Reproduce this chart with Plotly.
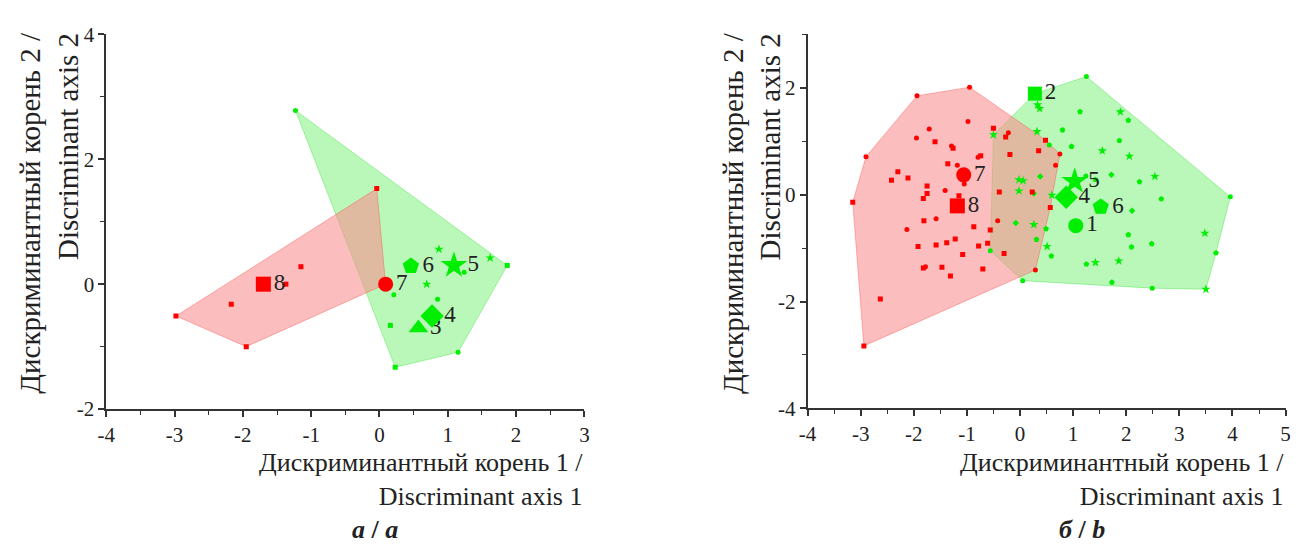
import plotly.graph_objects as go

# ---------------- Panel a (left) ----------------
a_red_x = [-0.04, -2.98, -1.95, -2.17, -1.37, -1.15]
a_red_y = [1.53, -0.51, -1.00, -0.32, 0.00, 0.28]

a_grn_circle_x = [-1.23, 1.15, 0.21, 0.85, 1.24]
a_grn_circle_y = [2.78, -1.09, -0.17, -0.24, 0.19]
a_grn_square_x = [1.87, 0.23, 0.16]
a_grn_square_y = [0.30, -1.33, -0.66]
a_grn_star_x = [0.69, 0.87, 1.62]
a_grn_star_y = [0.00, 0.56, 0.42]

a_big_labels = ["3", "4", "5", "6", "7", "8"]
a_big_x = [0.57, 0.77, 1.09, 0.46, 0.09, -1.70]
a_big_y = [-0.70, -0.51, 0.30, 0.29, 0.00, 0.00]
a_big_group = ["g", "g", "g", "g", "r", "r"]

# ---------------- Panel b (right) ----------------
b_red_circle_x = [-0.95, -1.94, -2.90, 0.29, 0.75, 0.67, -0.22, -0.42, -0.98, -1.71, -1.95,
                  -1.29, -0.79, -1.18, -1.41, -1.58, -2.13, -1.78, -1.05]
b_red_circle_y = [2.01, 1.85, 0.71, -1.41, 0.76, 0.55, 1.16, -0.49, 1.37, 1.23, 1.06,
                  0.91, 0.70, 0.55, 0.08, -0.45, -0.65, -1.35, 0.20]
b_red_square_x = [-3.15, -2.94, -2.63, 0.48, 0.35, 0.57, 0.23, -0.19, -0.50, -0.27, -0.39,
                  -0.56, -0.30, -1.60, -1.26, -0.74, -1.36, -2.30, -2.42, -2.11, -1.75,
                  -1.75, -1.82, -1.15, -1.81, -0.87, -1.92, -1.58, -1.38, -1.22, -0.78,
                  -0.61, -1.08, -1.82, -1.47, -1.31, -0.70]
b_red_square_y = [-0.14, -2.83, -1.95, 1.02, 0.82, -0.24, 0.05, 0.75, 1.24, 1.08, 0.05,
                  -0.66, -1.10, 0.99, 0.87, 0.73, 0.58, 0.43, 0.27, 0.31, 0.16,
                  0.02, -0.07, -0.02, -0.49, -0.60, -0.97, -0.94, -0.90, -0.83, -0.96,
                  -0.91, -1.12, -1.37, -1.36, -1.52, -1.39]

b_grn_circle_x = [1.25, 3.96, 2.49, 0.05, -0.56, 0.55, 1.24]
b_grn_circle_y = [2.21, -0.04, -1.75, -1.61, -1.05, 0.93, 0.35]
b_grn_pent_x = [1.13, 2.04, 0.80, 0.97, 1.87, 2.25, 1.42, 2.66, 0.49, 0.31, 0.59, 1.25,
                2.04, 2.10, 2.48, 3.69, 1.73]
b_grn_pent_y = [1.55, 1.39, 1.21, 0.90, 1.01, 0.24, 0.28, -0.08, -0.64, -0.84, -1.15, -1.30,
                -0.75, -0.98, -0.92, -1.09, -1.64]
b_grn_star_x = [1.89, 0.32, 1.55, 2.06, -0.50, 2.54, -0.02, 0.06, -0.02, 0.60, 0.26, 0.51,
                1.42, 1.86, 3.48, 3.50, 0.33, 0.37]
b_grn_star_y = [1.55, 1.18, 0.82, 0.72, 1.12, 0.34, 0.28, 0.26, 0.07, -0.01, -0.56, -0.97,
                -1.27, -1.24, -0.72, -1.77, 1.68, 1.61]
b_grn_diam_x = [1.72, 0.38, 0.26, 2.11, -0.08]
b_grn_diam_y = [0.37, 0.34, 0.02, -0.30, -0.53]

b_big_labels = ["1", "2", "4", "5", "6", "7", "8"]
b_big_x = [1.05, 0.28, 0.87, 1.03, 1.52, -1.06, -1.18]
b_big_y = [-0.58, 1.89, -0.05, 0.25, -0.23, 0.37, -0.21]
b_big_group = ["g", "g", "g", "g", "g", "r", "r"]

# tick labels
a_xticks = [-4, -3, -2, -1, 0, 1, 2, 3]
a_yticks = [-2, 0, 2, 4]
b_xticks = [-4, -3, -2, -1, 0, 1, 2, 3, 4, 5]
b_yticks = [-4, -2, 0, 2]

# ---------------- styles ----------------
RED = "#ff0000"
GRN = "#00ee00"
RED_FILL = "rgba(248,145,145,0.6)"
GRN_FILL = "rgba(0,230,0,0.27)"
BIG_SYMBOL = {"1": "circle", "2": "square", "3": "triangle-up", "4": "diamond",
              "5": "star", "6": "pentagon", "7": "circle", "8": "square"}
BIG_SIZE = {"1": 15, "2": 14, "3": 17, "4": 18, "5": 20, "6": 17, "7": 15, "8": 15}
SERIF = "Liberation Serif"


def convex_hull(xs, ys):
    pts = sorted(set(zip(xs, ys)))

    def cross(o, a, b):
        return (a[0] - o[0]) * (b[1] - o[1]) - (a[1] - o[1]) * (b[0] - o[0])

    lower, upper = [], []
    for p in pts:
        while len(lower) >= 2 and cross(lower[-2], lower[-1], p) <= 0:
            lower.pop()
        lower.append(p)
    for p in reversed(pts):
        while len(upper) >= 2 and cross(upper[-2], upper[-1], p) <= 0:
            upper.pop()
        upper.append(p)
    h = lower[:-1] + upper[:-1]
    h.append(h[0])
    return [p[0] for p in h], [p[1] for p in h]


fig = go.Figure()


def add_panel(xa, ya, red_sets, grn_sets, big_lab, big_x, big_y, big_grp, small):
    gx = [v for s in grn_sets for v in s[0]] + [x for x, g in zip(big_x, big_grp) if g == "g"]
    gy = [v for s in grn_sets for v in s[1]] + [y for y, g in zip(big_y, big_grp) if g == "g"]
    rx = [v for s in red_sets for v in s[0]] + [x for x, g in zip(big_x, big_grp) if g == "r"]
    ry = [v for s in red_sets for v in s[1]] + [y for y, g in zip(big_y, big_grp) if g == "r"]
    hx, hy = convex_hull(gx, gy)
    fig.add_trace(go.Scatter(x=hx, y=hy, xaxis=xa, yaxis=ya, mode="lines", fill="toself",
                             fillcolor=GRN_FILL, line=dict(color="rgba(0,220,0,0.3)", width=1),
                             hoverinfo="skip"))
    hx, hy = convex_hull(rx, ry)
    fig.add_trace(go.Scatter(x=hx, y=hy, xaxis=xa, yaxis=ya, mode="lines", fill="toself",
                             fillcolor=RED_FILL, line=dict(color="rgba(255,60,60,0.35)", width=1),
                             hoverinfo="skip"))
    for xs, ys, sym in grn_sets:
        fig.add_trace(go.Scatter(x=xs, y=ys, xaxis=xa, yaxis=ya, mode="markers",
                                 marker=dict(symbol=sym, color=GRN,
                                             size=small + (2 if sym == "star" else 0)
                                             + (1 if sym == "pentagon" else 0),
                                             line=dict(width=0))))
    for xs, ys, sym in red_sets:
        fig.add_trace(go.Scatter(x=xs, y=ys, xaxis=xa, yaxis=ya, mode="markers",
                                 marker=dict(symbol=sym, color=RED, size=small, line=dict(width=0))))
    for lab, x, y, g in zip(big_lab, big_x, big_y, big_grp):
        fig.add_trace(go.Scatter(x=[x], y=[y], xaxis=xa, yaxis=ya, mode="markers+text",
                                 text=[lab], textposition="middle right",
                                 textfont=dict(family=SERIF, size=23, color="#222"),
                                 cliponaxis=False,
                                 marker=dict(symbol=BIG_SYMBOL[lab], size=BIG_SIZE[lab],
                                             color=GRN if g == "g" else RED, line=dict(width=0))))


add_panel("x", "y",
          [(a_red_x, a_red_y, "square")],
          [(a_grn_circle_x, a_grn_circle_y, "circle"),
           (a_grn_square_x, a_grn_square_y, "square"),
           (a_grn_star_x, a_grn_star_y, "star")],
          a_big_labels, a_big_x, a_big_y, a_big_group, 5)

add_panel("x2", "y2",
          [(b_red_circle_x, b_red_circle_y, "circle"),
           (b_red_square_x, b_red_square_y, "square")],
          [(b_grn_circle_x, b_grn_circle_y, "circle"),
           (b_grn_pent_x, b_grn_pent_y, "pentagon"),
           (b_grn_star_x, b_grn_star_y, "star"),
           (b_grn_diam_x, b_grn_diam_y, "diamond")],
          b_big_labels, b_big_x, b_big_y, b_big_group, 5)

W, H = 1296, 557


def axis_common(ticks, rng, dom, anchor, minor_dt):
    return dict(domain=dom, range=rng, anchor=anchor, showline=True, linecolor="#333",
                linewidth=1.6, ticks="outside", ticklen=6, tickwidth=1.5, tickcolor="#333",
                tickmode="array", tickvals=ticks, ticktext=[str(t) for t in ticks],
                tickfont=dict(family=SERIF, size=21, color="#222"),
                minor=dict(ticks="outside", ticklen=4, tickwidth=1.3, tickcolor="#333",
                           tickmode="linear", tick0=0, dtick=minor_dt, showgrid=False),
                showgrid=False, zeroline=False, fixedrange=True)


fig.update_layout(
    width=W, height=H, margin=dict(l=0, r=0, t=0, b=0),
    paper_bgcolor="white", plot_bgcolor="white", showlegend=False,
    xaxis=axis_common(a_xticks, [-4, 3], [98.3 / W, 581.7 / W], "y", 0.5),
    yaxis=axis_common(a_yticks, [-2, 4], [(H - 415) / H, (H - 23.3) / H], "x", 1),
    xaxis2=axis_common(b_xticks, [-4, 5], [807.3 / W, 1290.5 / W], "y2", 0.5),
    yaxis2=axis_common(b_yticks, [-4, 3], [(H - 414.3) / H, (H - 23.3) / H], "x2", 1),
)

xt = "Дискриминантный корень 1 /<br>Discriminant axis 1"
yt = "Дискриминантный корень 2 /<br>Discriminant axis 2"
ann = []
for xr, xc in [(582 / W, 41 / W), (1291 / W, 751 / W)]:
    ann.append(dict(text=xt, xref="paper", yref="paper", x=xr, y=(H - 454) / H,
                    xanchor="right", yanchor="top", align="right", showarrow=False,
                    font=dict(family=SERIF, size=26, color="#222")))
    ann.append(dict(text=yt, xref="paper", yref="paper", x=xc, y=(H - 19) / H,
                    xanchor="center", yanchor="top", align="right", textangle=-90,
                    showarrow=False, font=dict(family=SERIF, size=29, color="#222")))
for cx, t in [(370, "<b><i>а</i> / <i>a</i></b>"), (1085, "<b><i>б</i> / <i>b</i></b>")]:
    ann.append(dict(text=t, xref="paper", yref="paper", x=cx / W, y=(H - 541) / H,
                    xanchor="center", yanchor="middle", showarrow=False,
                    font=dict(family=SERIF, size=26, color="#222")))
fig.update_layout(annotations=ann)

fig.write_html("out.html", config={"displayModeBar": False},
               post_script="document.body.style.margin='0';document.body.style.overflow='hidden';")
